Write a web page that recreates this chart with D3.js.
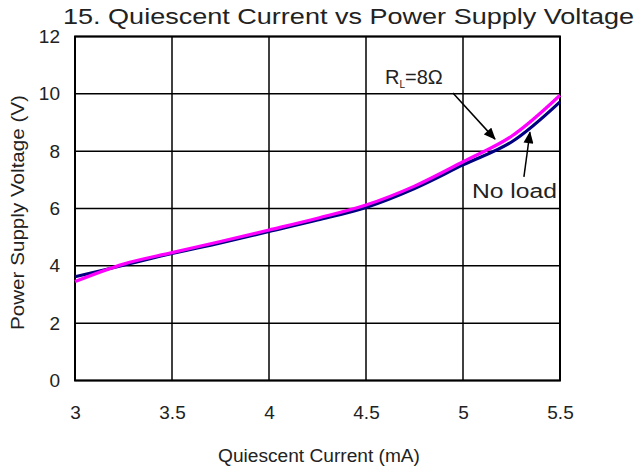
<!DOCTYPE html>
<html>
<head>
<meta charset="utf-8">
<script src="https://cdn.jsdelivr.net/npm/d3@7"></script>
<style>
  body { margin: 0; background: #fff; }
  svg { font-family: "Liberation Sans", Arial, sans-serif; }
</style>
</head>
<body>
<div id="chart"></div>
<script>
const width = 636;
const height = 470;
const margin = { top: 36.5, right: 76, bottom: 89.5, left: 75 };

// data
const current = [3, 3.25, 3.5, 3.75, 4, 4.25, 4.5, 4.75, 5, 5.25, 5.5];
const rl8Voltage = [3.45, 4.06, 4.46, 4.85, 5.25, 5.66, 6.12, 6.78, 7.63, 8.52, 9.95];
const noLoadVoltage = [3.62, 4.02, 4.43, 4.8, 5.2, 5.6, 6.04, 6.7, 7.52, 8.32, 9.72];
const xTicks = [3, 3.5, 4, 4.5, 5, 5.5];
const yTicks = [0, 2, 4, 6, 8, 10, 12];

const svg = d3.select("#chart")
    .append("svg")
    .attr("width", width)
    .attr("height", height);

const x = d3.scaleLinear()
    .domain([3, 5.5])
    .range([margin.left, width - margin.right]);

const y = d3.scaleLinear()
    .domain([0, 12])
    .range([height - margin.bottom, margin.top]);

// grid
const grid = svg.append("g");
grid.selectAll("line.v")
    .data(xTicks)
    .join("line")
    .attr("class", "v")
    .attr("x1", d => x(d)).attr("x2", d => x(d))
    .attr("y1", y(0)).attr("y2", y(12))
    .attr("stroke", "#000")
    .attr("stroke-width", 1.5);

grid.selectAll("line.h")
    .data(yTicks)
    .join("line")
    .attr("class", "h")
    .attr("x1", x(3)).attr("x2", x(5.5))
    .attr("y1", d => y(d)).attr("y2", d => y(d))
    .attr("stroke", "#000")
    .attr("stroke-width", 1.5);

// frame
svg.append("rect")
    .attr("x", x(3)).attr("y", y(12))
    .attr("width", x(5.5) - x(3))
    .attr("height", y(0) - y(12))
    .attr("fill", "none")
    .attr("stroke", "#000")
    .attr("stroke-width", 2);

// axes (labels only, the grid does the lines)
const xAxis = svg.append("g")
    .attr("transform", `translate(0, ${y(0) + 22})`)
    .call(d3.axisBottom(x).tickValues(xTicks).tickSize(0).tickFormat(d3.format("")));
xAxis.select(".domain").remove();
xAxis.selectAll("text")
    .attr("font-size", 19)
    .attr("font-family", "Liberation Sans, Arial, sans-serif")
    .attr("fill", "#222");

const yAxis = svg.append("g")
    .attr("transform", `translate(${x(3) - 12}, 0)`)
    .call(d3.axisLeft(y).tickValues(yTicks).tickSize(0));
yAxis.select(".domain").remove();
yAxis.selectAll("text")
    .attr("font-size", 19)
    .attr("font-family", "Liberation Sans, Arial, sans-serif")
    .attr("fill", "#222");

// curves
const line = d3.line()
    .x((d, i) => x(current[i]))
    .y(d => y(d))
    .curve(d3.curveCatmullRom.alpha(0.5));

svg.append("path")
    .datum(noLoadVoltage)
    .attr("d", line)
    .attr("fill", "none")
    .attr("stroke", "#000080")
    .attr("stroke-width", 3.2);

svg.append("path")
    .datum(rl8Voltage)
    .attr("d", line)
    .attr("fill", "none")
    .attr("stroke", "#ff00ff")
    .attr("stroke-width", 3.2);

// arrows
svg.append("defs").append("marker")
    .attr("id", "head")
    .attr("viewBox", "0 0 12 10")
    .attr("refX", 11).attr("refY", 5)
    .attr("markerWidth", 13).attr("markerHeight", 10)
    .attr("markerUnits", "userSpaceOnUse")
    .attr("orient", "auto")
    .append("path")
    .attr("d", "M0,0 L12,5 L0,10 Z")
    .attr("fill", "#000");

const arrows = [
    { from: [4.948, 10.03], to: [5.165, 8.42] },
    { from: [5.314, 7.1], to: [5.345, 8.66] }
];
svg.selectAll("line.arrow")
    .data(arrows)
    .join("line")
    .attr("class", "arrow")
    .attr("x1", d => x(d.from[0])).attr("y1", d => y(d.from[1]))
    .attr("x2", d => x(d.to[0])).attr("y2", d => y(d.to[1]))
    .attr("stroke", "#000")
    .attr("stroke-width", 1.5)
    .attr("marker-end", "url(#head)");

// annotation labels
const rl = svg.append("text")
    .attr("x", 385)
    .attr("y", 84)
    .attr("font-size", 20)
    .attr("fill", "#222");
rl.append("tspan").text("R");
rl.append("tspan").text("L").attr("font-size", 10).attr("dy", 4);
rl.append("tspan").text("=8Ω").attr("dy", -4);

svg.append("text")
    .attr("x", 472)
    .attr("y", 198)
    .attr("font-size", 20)
    .attr("fill", "#222")
    .attr("textLength", 85)
    .attr("lengthAdjust", "spacingAndGlyphs")
    .text("No load");

// titles
svg.append("text")
    .attr("x", 63)
    .attr("y", 24)
    .attr("font-size", 22)
    .attr("fill", "#222")
    .attr("textLength", 571)
    .attr("lengthAdjust", "spacingAndGlyphs")
    .text("15. Quiescent Current vs Power Supply Voltage");

svg.append("text")
    .attr("x", 218)
    .attr("y", 462)
    .attr("font-size", 18)
    .attr("fill", "#222")
    .attr("textLength", 202)
    .attr("lengthAdjust", "spacingAndGlyphs")
    .text("Quiescent Current (mA)");

svg.append("text")
    .attr("transform", `translate(24, 330) rotate(-90)`)
    .attr("font-size", 18)
    .attr("fill", "#222")
    .attr("textLength", 235)
    .attr("lengthAdjust", "spacingAndGlyphs")
    .text("Power Supply Voltage (V)");
</script>
</body>
</html>
